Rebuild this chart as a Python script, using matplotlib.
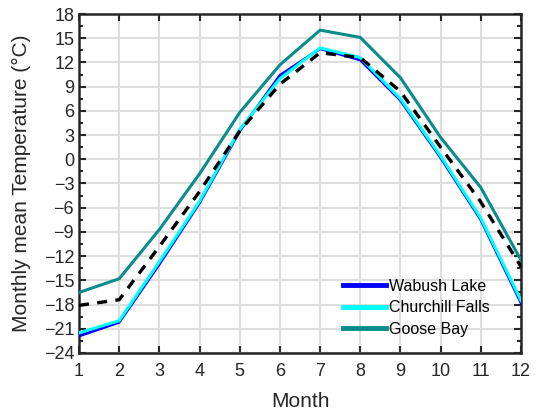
import numpy as np
import matplotlib
matplotlib.use('Agg')
import matplotlib.pyplot as plt
from matplotlib.ticker import MultipleLocator

months = [1, 2, 3, 4, 5, 6, 7, 8, 9, 10, 11, 12]
wabush = [-21.9, -20.2, -13.0, -5.4, 3.5, 10.4, 13.7, 12.3, 7.3, 0.2, -7.5, -17.8]
churchill = [-21.5, -20.0, -12.7, -5.2, 3.7, 10.0, 13.8, 12.6, 7.5, 0.4, -7.3, -17.5]
goose = [-16.5, -14.8, -8.7, -1.8, 5.8, 11.7, 16.0, 15.1, 10.1, 2.7, -3.5, -12.5]
mean_all = [-18.1, -17.4, -10.8, -4.0, 3.5, 9.3, 13.2, 12.6, 8.4, 1.5, -5.3, -13.3]

dark = '#262626'
plt.rcParams['font.family'] = ['Liberation Sans', 'DejaVu Sans']

fig = plt.figure(figsize=(5.39, 4.13), dpi=100)
ax = fig.add_axes([0.1466, 0.1453, 0.82, 0.8208])

ax.plot(months, wabush, color='#0000ff', lw=2.0, label='Wabush Lake', zorder=3)
ax.plot(months, churchill, color='#00ffff', lw=2.2, label='Churchill Falls', zorder=4)
ax.plot(months, goose, color='#0a8c8c', lw=2.2, label='Goose Bay', zorder=5)
ax.plot(months, mean_all, color='black', lw=2.4, ls=(0, (3, 2.5)), zorder=6, label='_nolegend_')

ax.set_xlim(1, 12)
ax.set_ylim(-24, 18)
ax.set_xticks(months)
ax.yaxis.set_major_locator(MultipleLocator(3))
ax.yaxis.set_minor_locator(MultipleLocator(1.5))

ax.grid(True, which='major', color='#dedede', lw=1.5, zorder=0)
ax.set_axisbelow(True)
ax.tick_params(which='both', direction='in', top=True, right=True,
               colors=dark, labelcolor=dark, labelsize=13, width=1.5)
ax.tick_params(which='major', length=5)
ax.tick_params(which='minor', length=3)
ax.tick_params(axis='x', pad=7)
for s in ax.spines.values():
    s.set_color(dark)
    s.set_linewidth(1.8)

ax.set_xlabel('Month', fontsize=15, color=dark, labelpad=9)
ax.set_ylabel('Monthly mean Temperature (°C)', fontsize=15, color=dark, labelpad=9)

leg = ax.legend(loc='lower left', frameon=False, fontsize=11.5, handlelength=2.7,
                handletextpad=0.2, labelspacing=0.4, borderpad=0, borderaxespad=0,
                bbox_to_anchor=(0.597, 0.048))
for h in leg.get_lines():
    h.set_linewidth(3.5)

fig.savefig('out.png', dpi=100)
